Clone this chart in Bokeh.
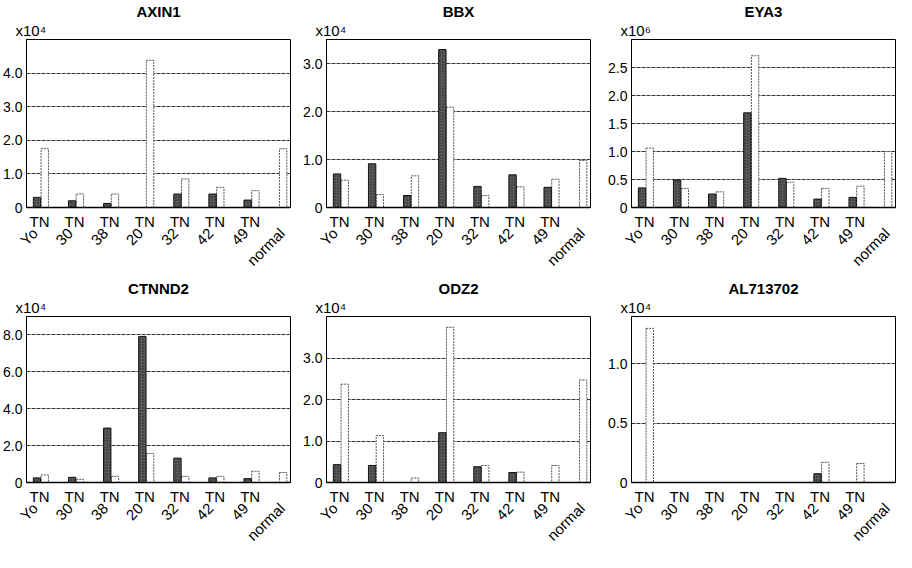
import math
from bokeh.plotting import figure
from bokeh.layouts import gridplot
from bokeh.models import FixedTicker, LinearAxis, Range1d, Title
from bokeh.embed import file_html
from bokeh.resources import INLINE

# ---------------- data ----------------
groups = ["Yo", "30", "38", "20", "32", "42", "49"]
normal_label = "normal"
pair_label = "TN"

genes = ["AXIN1", "BBX", "EYA3", "CTNND2", "ODZ2", "AL713702"]
scale_labels = ["x10\u2074", "x10\u2074", "x10\u2076", "x10\u2074", "x10\u2074", "x10\u2074"]

axin1_tumor = [0.30, 0.20, 0.12, 0.0, 0.40, 0.40, 0.22]
axin1_pair_normal = [1.75, 0.40, 0.40, 4.38, 0.85, 0.60, 0.50]
axin1_normal = 1.75

bbx_tumor = [0.70, 0.91, 0.25, 3.29, 0.44, 0.68, 0.42]
bbx_pair_normal = [0.57, 0.27, 0.66, 2.09, 0.25, 0.43, 0.59]
bbx_normal = 0.98

eya3_tumor = [0.35, 0.49, 0.24, 1.69, 0.52, 0.15, 0.18]
eya3_pair_normal = [1.06, 0.34, 0.28, 2.71, 0.45, 0.34, 0.38]
eya3_normal = 1.00

ctnnd2_tumor = [0.25, 0.28, 2.95, 7.92, 1.32, 0.25, 0.21]
ctnnd2_pair_normal = [0.41, 0.17, 0.33, 1.57, 0.33, 0.33, 0.61]
ctnnd2_normal = 0.54

odz2_tumor = [0.43, 0.41, 0.0, 1.20, 0.38, 0.24, 0.0]
odz2_pair_normal = [2.37, 1.13, 0.11, 3.74, 0.41, 0.25, 0.41]
odz2_normal = 2.47

al713702_tumor = [0.0, 0.0, 0.0, 0.0, 0.0, 0.074, 0.0]
al713702_pair_normal = [1.30, 0.0, 0.0, 0.0, 0.0, 0.17, 0.16]
al713702_normal = 0.0

y_max = [5.0, 3.5, 3.0, 9.0, 4.0, 1.4]
y_ticks = [
    [0, 1, 2, 3, 4],
    [0, 1, 2, 3],
    [0, 0.5, 1.0, 1.5, 2.0, 2.5],
    [0, 2, 4, 6, 8],
    [0, 1, 2, 3],
    [0, 0.5, 1.0],
]

series = [
    (axin1_tumor, axin1_pair_normal, axin1_normal),
    (bbx_tumor, bbx_pair_normal, bbx_normal),
    (eya3_tumor, eya3_pair_normal, eya3_normal),
    (ctnnd2_tumor, ctnnd2_pair_normal, ctnnd2_normal),
    (odz2_tumor, odz2_pair_normal, odz2_normal),
    (al713702_tumor, al713702_pair_normal, al713702_normal),
]

# ---------------- style ----------------
FONT = "Liberation Sans"
col_widths = [300, 305, 291]
row_heights = [277, 275]
border_right = [10, 15, 1]
border_top = [30, 38]
border_bottom = [70, 70]
X_START, X_END = -0.41, 7.11
BAR_W = 0.21
T_OFF, N_OFF = -0.11, 0.11
NORMAL_POS = 6.9
TN_OFF = -0.04
ROT_OFF = -0.17
ROT_NORMAL = 6.87


def fmt(v):
    return "0" if v == 0 else "%.1f" % v


def no_ticks(ax):
    ax.major_tick_line_color = None
    ax.minor_tick_line_color = None
    ax.major_tick_out = 0
    ax.major_tick_in = 0
    ax.minor_tick_out = 0
    ax.minor_tick_in = 0


def make_panel(k):
    r, c = divmod(k, 3)
    gene = genes[k]
    tumor, pnorm, normal = series[k]
    p = figure(width=col_widths[c], height=row_heights[r],
               x_range=Range1d(X_START, X_END), y_range=Range1d(0, y_max[k]),
               output_backend="svg", toolbar_location=None,
               min_border_left=20, min_border_right=border_right[c],
               min_border_top=border_top[r], min_border_bottom=border_bottom[r])
    # scale label (closest to frame), then gene title
    p.add_layout(Title(text=scale_labels[k], align="left", offset=-11,
                       standoff=1, text_font=FONT, text_font_size="15px",
                       text_font_style="normal", text_color="black"), "above")
    p.add_layout(Title(text=gene, align="center", standoff=0,
                       text_font=FONT, text_font_size="15px",
                       text_font_style="bold", text_color="black"), "above")
    p.outline_line_color = "black"
    p.outline_line_width = 1
    p.background_fill_color = "white"
    p.border_fill_color = "white"

    # y axis
    ya = p.yaxis[0]
    ya.ticker = FixedTicker(ticks=y_ticks[k])
    ya.major_label_overrides = {t: fmt(t) for t in y_ticks[k]}
    no_ticks(ya)
    ya.axis_line_color = "black"
    ya.major_label_text_font = FONT
    ya.major_label_text_font_size = "14px"
    ya.major_label_text_color = "black"
    ya.major_label_standoff = 4

    p.xgrid.visible = False
    p.ygrid.ticker = FixedTicker(ticks=[t for t in y_ticks[k] if t != 0])
    p.ygrid.grid_line_color = "#333333"
    p.ygrid.grid_line_dash = "4 1"
    p.ygrid.grid_line_width = 1

    # TN axis
    tn_ticks = [round(i + TN_OFF, 2) for i in range(len(groups))]
    xa = p.xaxis[0]
    xa.ticker = FixedTicker(ticks=tn_ticks)
    xa.major_label_overrides = {t: pair_label for t in tn_ticks}
    no_ticks(xa)
    xa.axis_line_color = "black"
    xa.axis_line_width = 1.5
    xa.major_label_text_font = FONT
    xa.major_label_text_font_size = "15px"
    xa.major_label_text_color = "black"
    xa.major_label_standoff = 5

    # rotated group labels
    rot_ticks = [round(i + ROT_OFF, 2) for i in range(len(groups))] + [ROT_NORMAL]
    rot_names = groups + [normal_label]
    ra = LinearAxis(ticker=FixedTicker(ticks=rot_ticks),
                    major_label_overrides={t: n for t, n in zip(rot_ticks, rot_names)},
                    major_label_orientation=math.pi / 4,
                    axis_line_color=None, major_label_standoff=-2,
                    major_label_text_font=FONT, major_label_text_font_size="15px",
                    major_label_text_color="black")
    no_ticks(ra)
    p.add_layout(ra, "below")

    # bars
    tx = [i + T_OFF for i, v in enumerate(tumor) if v > 0]
    tv = [v for v in tumor if v > 0]
    nx = [i + N_OFF for i, v in enumerate(pnorm) if v > 0]
    nv = [v for v in pnorm if v > 0]
    if normal > 0:
        nx.append(NORMAL_POS)
        nv.append(normal)
    p.vbar(x=nx, top=nv, width=BAR_W, bottom=0, fill_color="white",
           line_color="#555555", line_dash="2 1", line_width=1)
    if tv:
        p.vbar(x=tx, top=tv, width=BAR_W, bottom=0, fill_color="#5a5a5a",
               line_color="#111111", line_width=1,
               hatch_pattern="dot", hatch_color="#222222", hatch_scale=3,
               hatch_weight=1)
    return p


panels = [make_panel(k) for k in range(6)]
grid = gridplot([panels[0:3], panels[3:6]], toolbar_location=None)

open("out.html", "w").write(file_html(grid, INLINE))
